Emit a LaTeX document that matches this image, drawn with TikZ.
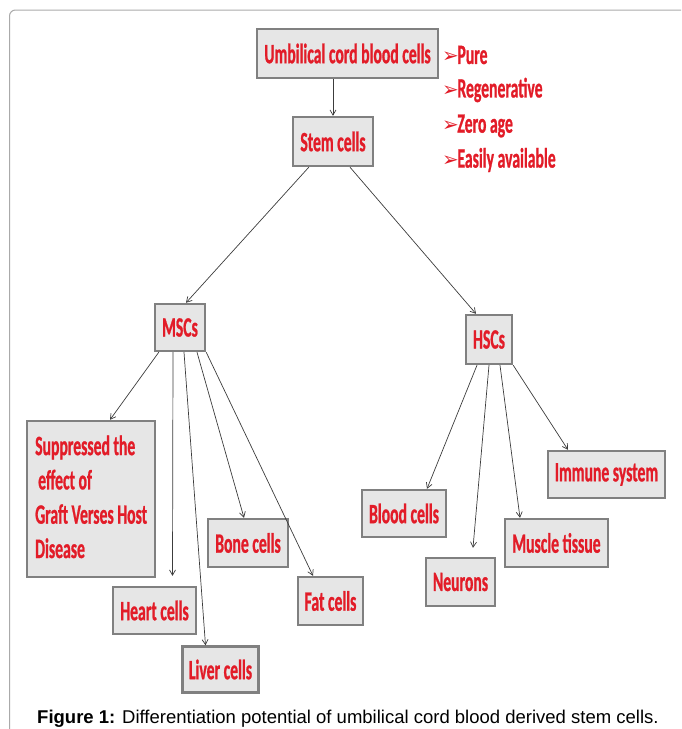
\documentclass[tikz,border=0pt]{standalone}
\usepackage{fontspec}
\setmainfont{Liberation Sans}
\newfontfamily\boxfont[FakeStretch=0.56,FakeBold=0.8]{Carlito}
\newfontfamily\dingfont{DejaVu Sans}
\usetikzlibrary{arrows.meta,calc}
\definecolor{txtred}{RGB}{226,28,40}
\definecolor{boxfill}{RGB}{230,230,230}
\definecolor{boxedge}{RGB}{128,128,128}
\definecolor{linkcol}{RGB}{60,60,60}
\definecolor{framecol}{RGB}{170,170,170}
\tikzset{
  cellbox/.style={draw=boxedge, line width=2.4pt, fill=boxfill, inner sep=0pt,
    text=txtred, font=\boxfont\bfseries\fontsize{28}{34.3}\selectfont, align=center},
  link/.style={draw=linkcol, line width=0.7pt, -{Straight Barb[angle=60:6pt]}},
  listitem/.style={anchor=west, inner sep=0pt, text=txtred, font=\boxfont\bfseries\fontsize{28}{30}\selectfont}
}
\newcommand{\bullarrow}{{\dingfont\fontsize{20}{20}\selectfont\raisebox{1pt}{➢}}\hspace{-1.5pt}}
\begin{document}
\begin{tikzpicture}[x=1pt,y=-1pt]
\useasboundingbox (0,0) rectangle (681,729);
% frame
\draw[framecol, line width=1pt] (9.5,729) -- (9.5,16) arc[start angle=180,end angle=270,radius=6] -- (681,10);

\node[cellbox, minimum width=181, minimum height=49] (ucb) at (347.5,53.5) {Umbilical cord blood cells};
\node[cellbox, minimum width=80, minimum height=49] (stem) at (333,141.5) {Stem cells};
\node[cellbox, minimum width=50, minimum height=47] (msc) at (180,327.5) {MSCs};
\node[cellbox, minimum width=46, minimum height=49] (hsc) at (489,339.5) {HSCs};
\node[cellbox, minimum width=128, minimum height=156] (sup) at (91,499) {};
\node[anchor=base west, inner sep=0pt, text=txtred, align=left,
  font=\boxfont\bfseries\fontsize{28}{34.3}\selectfont] (suptext) at (35,558)
  {Suppressed the\\\hspace*{3pt}effect of\\Graft Verses Host\\Disease};
\node[cellbox, minimum width=83, minimum height=47] (heart) at (154.5,610.5) {Heart cells};
\node[cellbox, minimum width=76, minimum height=46] (liver) at (220.5,669.5) {Liver cells};
\node[cellbox, minimum width=80, minimum height=48] (bone) at (248,543) {Bone cells};
\node[cellbox, minimum width=65, minimum height=48] (fat) at (330.5,601) {Fat cells};
\node[cellbox, minimum width=84, minimum height=47] (blood) at (404,513.5) {Blood cells};
\node[cellbox, minimum width=69, minimum height=48] (neur) at (460.5,582) {Neurons};
\node[cellbox, minimum width=103, minimum height=48] (musc) at (556.5,543) {Muscle tissue};
\node[cellbox, minimum width=117, minimum height=47] (imm) at (606.5,474.5) {Immune system};

% list
\node[listitem] (l1) at (442,55) {\bullarrow Pure};
\node[listitem] (l2) at (442,90) {\bullarrow Regenerative};
\node[listitem] (l3) at (442,126) {\bullarrow Zero age};
\node[listitem] (l4) at (442,160) {\bullarrow Easily available};

% connectors
\coordinate (heartend) at ($(heart.north)+(18,-10)$);
\coordinate (neurend) at ($(neur.north)+(12.5,-9)$);
\draw[link] (ucb.south -| stem.north) -- (stem.north);
\draw[link] ($(stem.south west)+(17,0)$) -- ($(msc.north)+(6,0)$);
\draw[link] ($(stem.south)+(17,0)$) -- ($(hsc.north)+(-13,0)$);
\draw[link] ($(msc.south west)+(5,0)$) -- ($(sup.north)+(19,0)$);
\draw[link] ($(msc.south)+(-7,0)$) -- (heartend);
\draw[link] ($(msc.south)+(4,0)$) -- ($(liver.north)+(-15,0)$);
\draw[link] ($(msc.south)+(17,0)$) -- ($(bone.north)+(-4,0)$);
\draw[link] (msc.south east) -- ($(fat.north)+(-17.5,0)$);
\draw[link] ($(hsc.south)+(-12,0)$) -- ($(blood.north)+(23,0)$);
\draw[link] (hsc.south) -- (neurend);
\draw[link] ($(hsc.south)+(11,0)$) -- ($(musc.north)+(-36.5,0)$);
\draw[link] (hsc.south east) -- ($(imm.north)+(-38.5,0)$);

% caption
\node[anchor=base west, inner sep=0pt, font=\fontsize{18.5}{22}\selectfont] (cap) at (37,723)
  {\textbf{Figure 1:} Differentiation potential of umbilical cord blood derived stem cells.};
\end{tikzpicture}
\end{document}
